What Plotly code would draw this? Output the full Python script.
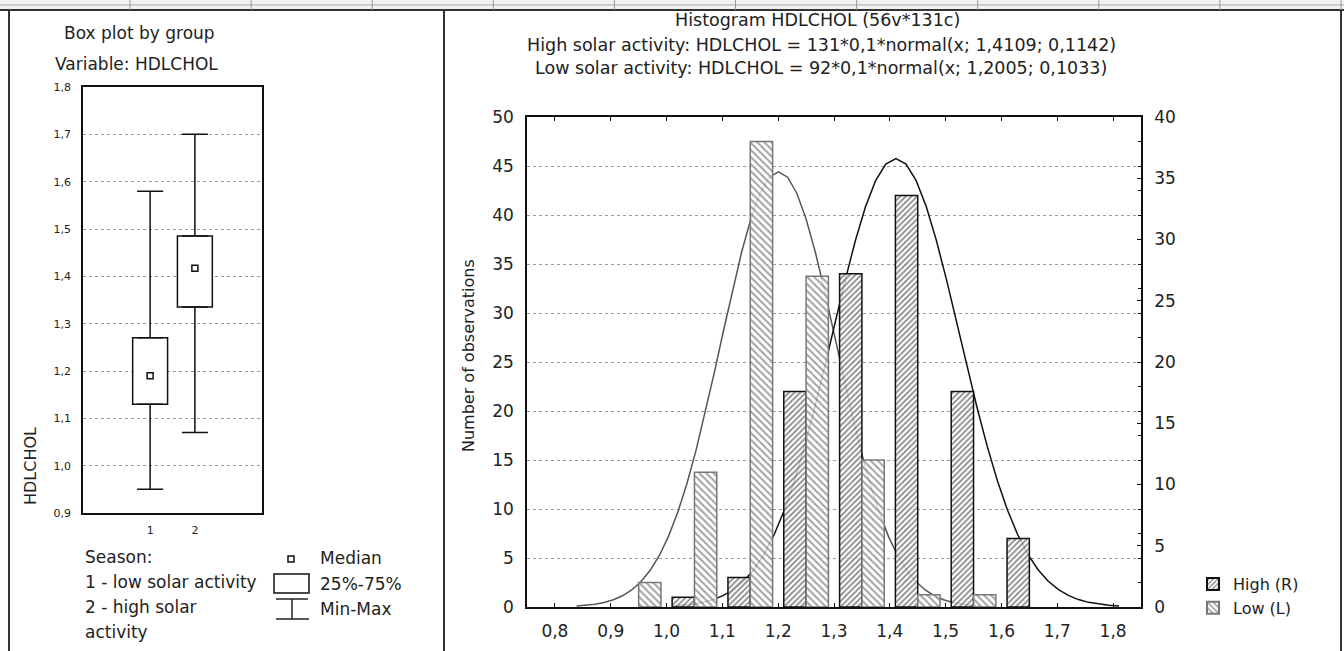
import numpy as np
import plotly.graph_objects as go

W, H = 1344, 651


def px(x):
    return x / W


def py(y):
    return 1 - y / H


FONT = "DejaVu Sans"
TXT = "#222222"

# ---------------- Box plot data ----------------
groups = [1, 2]
group_labels = ["1", "2"]
box_min = [0.95, 1.07]
box_q1 = [1.13, 1.335]
box_median = [1.19, 1.417]
box_q3 = [1.27, 1.485]
box_max = [1.58, 1.70]

# ---------------- Histogram data ----------------
high_bins = [1.05, 1.15, 1.25, 1.35, 1.45, 1.55, 1.65]
high_counts = [1, 3, 22, 34, 42, 22, 7]
low_bins = [0.95, 1.05, 1.15, 1.25, 1.35, 1.45, 1.55]
low_counts = [2, 11, 38, 27, 12, 1, 1]
x_ticks = [0.8, 0.9, 1.0, 1.1, 1.2, 1.3, 1.4, 1.5, 1.6, 1.7, 1.8]

# fitted normal curves (parameters as printed in the chart title)
bin_width = 0.1
high_n, high_mean, high_sd = 131, 1.4109, 0.1142
low_n, low_mean, low_sd = 92, 1.2005, 0.1033


def normal_curve(n, mean, sd):
    xs = np.linspace(mean - 3.5 * sd, mean + 3.5 * sd, 45)
    ys = n * bin_width * np.exp(-0.5 * ((xs - mean) / sd) ** 2) / (sd * np.sqrt(2 * np.pi))
    return xs, ys


hx, hy = normal_curve(high_n, high_mean, high_sd)
lx, ly = normal_curve(low_n, low_mean, low_sd)

fig = go.Figure()

# ---- box plot ----
fig.add_trace(go.Bar(
    x=groups, base=box_q1, y=[q3 - q1 for q1, q3 in zip(box_q1, box_q3)],
    width=0.78, marker=dict(color="white", line=dict(color="#111", width=1.5)),
    xaxis="x", yaxis="y", showlegend=False, hoverinfo="skip"))
fig.add_trace(go.Scatter(
    x=groups, y=box_q3, mode="markers", marker=dict(size=1, opacity=0),
    error_y=dict(type="data", symmetric=False,
                 array=[mx - q3 for mx, q3 in zip(box_max, box_q3)],
                 arrayminus=[0, 0], width=13, thickness=1.5, color="#111"),
    xaxis="x", yaxis="y", showlegend=False, hoverinfo="skip"))
fig.add_trace(go.Scatter(
    x=groups, y=box_q1, mode="markers", marker=dict(size=1, opacity=0),
    error_y=dict(type="data", symmetric=False, array=[0, 0],
                 arrayminus=[q1 - mn for mn, q1 in zip(box_min, box_q1)],
                 width=13, thickness=1.5, color="#111"),
    xaxis="x", yaxis="y", showlegend=False, hoverinfo="skip"))
fig.add_trace(go.Scatter(
    x=groups, y=box_median, mode="markers",
    marker=dict(symbol="square", size=6, color="white", line=dict(color="#111", width=1.5)),
    xaxis="x", yaxis="y", showlegend=False))

# ---- histogram: curves first (drawn beneath the bars) ----
fig.add_trace(go.Scatter(x=lx, y=ly, mode="lines", line=dict(color="#555", width=1.5),
                         xaxis="x2", yaxis="y2", showlegend=False))
fig.add_trace(go.Scatter(x=hx, y=hy, mode="lines", line=dict(color="#111", width=1.5),
                         xaxis="x2", yaxis="y3", showlegend=False))
fig.add_trace(go.Bar(
    x=high_bins, y=high_counts, width=0.04, offset=-0.04, name="High (R)",
    marker=dict(color="rgba(255,255,255,0.8)", line=dict(color="#111", width=1.5),
                pattern=dict(shape="/", fgcolor="#111", bgcolor="rgba(255,255,255,0.8)",
                             size=4, solidity=0.45)),
    xaxis="x2", yaxis="y4"))
fig.add_trace(go.Bar(
    x=low_bins, y=low_counts, width=0.04, offset=0.0, name="Low (L)",
    marker=dict(color="rgba(255,255,255,0.8)", line=dict(color="#777", width=1.5),
                pattern=dict(shape="\\", fgcolor="#444", bgcolor="rgba(255,255,255,0.8)",
                             size=5, solidity=0.4)),
    xaxis="x2", yaxis="y5"))

tickfont_small = dict(family=FONT, size=11, color=TXT)
tickfont = dict(family=FONT, size=17, color=TXT)
hist_dom_y = [py(607), py(117)]

fig.update_layout(
    width=W, height=H, margin=dict(l=0, r=0, t=0, b=0, autoexpand=False), autosize=False,
    paper_bgcolor="white", plot_bgcolor="white",
    separators=",.", barmode="overlay",
    font=dict(family=FONT, size=16, color=TXT),
    xaxis=dict(domain=[px(83), px(262)], range=[-0.5, 3.5], anchor="y", automargin=False,
               tickvals=groups, ticktext=group_labels, tickfont=tickfont_small,
               showline=True, mirror=True, linecolor="#111", linewidth=1.5,
               showgrid=False, zeroline=False, ticks="", ticklabelstandoff=6),
    yaxis=dict(domain=[py(513), py(87)], range=[0.9, 1.8], anchor="x", automargin=False,
               dtick=0.1, tickformat=".1f", tickfont=tickfont_small,
               showline=True, mirror=True, linecolor="#111", linewidth=1.5,
               showgrid=True, gridcolor="#999", griddash="dot", gridwidth=1,
               zeroline=False, ticks="", ticklabelstandoff=8),
    xaxis2=dict(domain=[px(527), px(1141)], range=[0.75, 1.85], anchor="y2", automargin=False,
                tickvals=x_ticks, tickformat=".1f", tickfont=tickfont,
                showline=True, mirror="ticks", linecolor="#111", linewidth=1.5,
                ticks="inside", ticklen=4, tickcolor="#111",
                showgrid=False, zeroline=False, ticklabelstandoff=8),
    yaxis2=dict(domain=hist_dom_y, range=[0, 40], anchor="x2", visible=False, automargin=False),
    yaxis3=dict(range=[0, 50], overlaying="y2", anchor="x2", visible=False, automargin=False),
    yaxis4=dict(range=[0, 50], overlaying="y2", anchor="x2", side="left", automargin=False,
                dtick=5, tickfont=tickfont, showline=True, linecolor="#111", linewidth=1.5,
                showgrid=True, gridcolor="#999", griddash="dot", gridwidth=1,
                zeroline=False, ticks="", ticklabelstandoff=8),
    yaxis5=dict(range=[0, 40], overlaying="y2", anchor="x2", side="right", automargin=False,
                dtick=5, tickfont=tickfont, showline=True, linecolor="#111", linewidth=1.5,
                showgrid=False, zeroline=False, ticks="inside", ticklen=4, tickcolor="#111",
                minor=dict(dtick=2, ticks="inside", ticklen=3, tickcolor="#111"),
                ticklabelstandoff=8),
    legend=dict(x=px(1193), y=py(567), xanchor="left", yanchor="top",
                bgcolor="rgba(0,0,0,0)", font=dict(family=FONT, size=16, color=TXT),
                itemsizing="constant", tracegroupgap=0),
)

ann = []


def text(x, y, s, size=17, xanchor="left", angle=0):
    ann.append(dict(x=px(x), y=py(y), xref="paper", yref="paper", text=s,
                    showarrow=False, xanchor=xanchor, yanchor="middle", textangle=angle,
                    font=dict(family=FONT, size=size, color=TXT)))


text(62, 33, "Box plot by group")
text(53, 64, "Variable: HDLCHOL")
text(30, 466, "HDLCHOL", size=16, xanchor="center", angle=-90)
text(83, 557, "Season:")
text(83, 582, "1 - low solar activity")
text(83, 607, "2 - high solar")
text(83, 632, "activity")
text(318, 558, "Median")
text(318, 584, "25%-75%")
text(318, 609, "Min-Max")

text(818, 20, "Histogram HDLCHOL (56v*131c)", size=17.5, xanchor="center")
text(821, 45, "High solar activity: HDLCHOL = 131*0,1*normal(x; 1,4109; 0,1142)", size=17.5, xanchor="center")
text(821, 68, "Low solar activity: HDLCHOL = 92*0,1*normal(x; 1,2005; 0,1033)", size=17.5, xanchor="center")
text(468, 356, "Number of observations", size=16, xanchor="center", angle=-90)

shapes = []


def line(x0, y0, x1, y1, color="#222", width=1.5):
    shapes.append(dict(type="line", xref="paper", yref="paper",
                       x0=px(x0), y0=py(y0), x1=px(x1), y1=py(y1),
                       line=dict(color=color, width=width)))


# page / table frame
shapes.append(dict(type="rect", xref="paper", yref="paper", x0=0, x1=1, y0=py(10), y1=1,
                   fillcolor="#f2f2f2", line=dict(width=0), layer="below"))
line(0, 5, W, 5, color="#aaa", width=1)
line(0, 10, W, 10, color="#333", width=2)
line(9, 10, 9, H, color="#333", width=2)
line(444, 10, 444, H, color="#333", width=2)
line(1341, 10, 1341, H, color="#333", width=2)
for k in range(11):
    xr = 130 + 121.1 * k
    line(xr, 0, xr, 10, color="#999", width=1)

# box-plot legend symbols
shapes.append(dict(type="rect", xref="paper", yref="paper", x0=px(288), x1=px(294),
                   y0=py(562), y1=py(556), line=dict(color="#111", width=1.5), fillcolor="white"))
shapes.append(dict(type="rect", xref="paper", yref="paper", x0=px(274), x1=px(309),
                   y0=py(593), y1=py(574), line=dict(color="#111", width=1.5), fillcolor="white"))
line(276, 599, 308, 599)
line(276, 619, 309, 619)
line(292, 599, 292, 619)

fig.update_layout(annotations=ann, shapes=shapes)

post = (
    "document.documentElement.style.margin='0';"
    "document.documentElement.style.overflow='hidden';"
    "document.body.style.margin='0';"
    "document.body.style.overflow='hidden';"
    "var gd=document.getElementById('{plot_id}');"
    "gd.style.position='fixed';gd.style.left='0px';gd.style.top='0px';"
)
fig.write_html("out.html",
               config={"displayModeBar": False, "responsive": False},
               default_width="1344px", default_height="651px",
               post_script=post)
